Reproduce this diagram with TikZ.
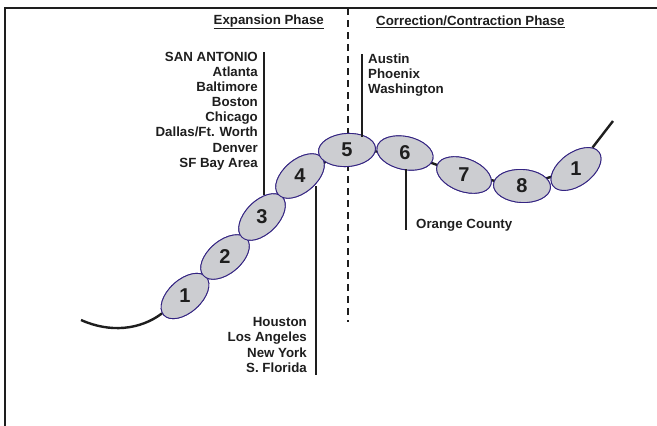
\documentclass[tikz,border=0pt]{standalone}
\usepackage{fontspec}
\setmainfont{Liberation Sans}
\usetikzlibrary{shapes.geometric}
\definecolor{beadfill}{RGB}{204,205,209}
\definecolor{beadline}{RGB}{52,36,130}
\definecolor{ink}{RGB}{30,30,30}
\tikzset{
  bead/.style={ellipse, draw=beadline, fill=beadfill, line width=0.9pt, minimum width=57pt, minimum height=33pt, inner sep=0pt},
  num/.style={font=\fontsize{20}{20}\selectfont\bfseries, text=ink, inner sep=0pt},
  city/.style={font=\fontsize{13.3}{15.1}\selectfont\bfseries, text=ink, inner sep=0pt},
  head/.style={font=\fontsize{13.3}{15}\selectfont\bfseries, text=ink, inner sep=0pt},
  chain/.style={line width=2.4pt, draw=ink},
  leader/.style={line width=1.1pt, draw=ink},
  frame/.style={line width=2pt, draw=ink},
  divider/.style={line width=2pt, draw=ink, dash pattern=on 7pt off 5pt}
}
\begin{document}
\begin{tikzpicture}[x=1pt,y=-1pt]
\useasboundingbox (0,0) rectangle (657,426);
% frame
\coordinate (fl) at (5,426);
\coordinate (fc) at (5,8);
\coordinate (fr) at (657,8);
\draw[frame] (fl) -- (fc) -- (fr);
% divider
\coordinate (dt) at (348,8);
\coordinate (db) at (348,322);
\draw[divider] (dt) -- (db);
% headings
\node[head, anchor=east] (h1) at (324,22) {\underline{Expansion Phase}};
\node[head, anchor=west] (h2) at (376,22) {\underline{Correction/Contraction Phase}};
% beads
\node[bead, rotate=42] (b1) at (185,296) {};
\node[bead, rotate=40] (b2) at (225,257) {};
\node[bead, rotate=45] (b3) at (262,217) {};
\node[bead, rotate=40] (b4) at (300,176) {};
\node[bead, rotate=4] (b5) at (347,150) {};
\node[bead, rotate=-12] (b6) at (405,153) {};
\node[bead, rotate=-20] (b7) at (464,175) {};
\node[bead, rotate=-3] (b8) at (522,186) {};
\node[bead, rotate=36] (b9) at (576,169) {};
% chain
\coordinate (lt) at (81,320);
\coordinate (rt) at (613,121);
\draw[chain] (lt) .. controls (110,333) and (140,330) .. (b1);
\draw[chain] (b9) -- (rt);
\foreach \a/\b in {b1/b2,b2/b3,b3/b4,b4/b5,b5/b6,b6/b7,b7/b8,b8/b9}
  \draw[chain, shorten <=-1pt, shorten >=-1pt] (\a) -- (\b);
% redraw beads on top
\foreach \n/\r/\x/\y in {1/42/185/296,2/40/225/257,3/45/262/217,4/40/300/176,5/4/347/150,6/-12/405/153,7/-20/464/175,8/-3/522/186,9/36/576/169}
  \node[bead, rotate=\r] at (\x,\y) {};
\node[num] (n1) at (b1) {1};
\node[num] (n2) at (b2) {2};
\node[num] (n3) at (b3) {3};
\node[num] (n4) at (b4) {4};
\node[num] (n5) at (b5) {5};
\node[num] (n6) at (b6) {6};
\node[num] (n7) at (b7) {7};
\node[num] (n8) at (b8) {8};
\node[num] (n9) at (b9) {1};
% leaders
\coordinate (l1t) at (264,52);
\coordinate (l1b) at (264,195);
\draw[leader] (l1t) -- (l1b);
\coordinate (l2t) at (316,186);
\coordinate (l2b) at (316,375);
\draw[leader] (l2t) -- (l2b);
\coordinate (l3t) at (362,54);
\coordinate (l3b) at (362,137);
\draw[leader] (l3t) -- (l3b);
\coordinate (l4t) at (406,169);
\coordinate (l4b) at (406,230);
\draw[leader] (l4t) -- (l4b);
% city lists
\node[city, anchor=east, align=right] (c1) at (258,111) {SAN ANTONIO\\Atlanta\\Baltimore\\Boston\\Chicago\\Dallas/Ft. Worth\\Denver\\SF Bay Area};
\node[city, anchor=west, align=left] (c2) at (368,75) {Austin\\Phoenix\\Washington};
\node[city, anchor=west] (c3) at (416,225) {Orange County};
\node[city, anchor=east, align=right] (c4) at (307,345) {Houston\\Los Angeles\\New York\\S. Florida};
\end{tikzpicture}
\end{document}
